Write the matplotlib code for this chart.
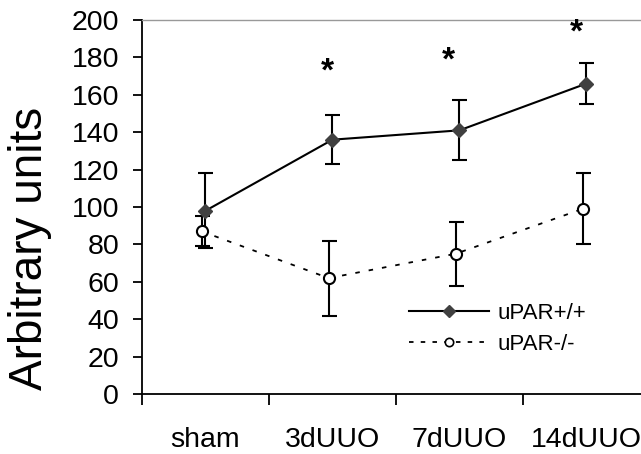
import numpy as np
import matplotlib
matplotlib.use("Agg")
import matplotlib.pyplot as plt
from matplotlib.lines import Line2D

# --------------------------------------------
# Data
# --------------------------------------------

groups = ["sham", "3dUUO", "7dUUO", "14dUUO"]

wt_mean = [98, 136, 141, 166]
wt_err = [20, 13, 16, 11]

ko_mean = [87, 62, 75, 99]
ko_err = [8, 20, 17, 19]

star_y = [172, 178, 193]
star_groups = [1, 2, 3]
star_shift = [-0.04, -0.09, -0.08]

plt.rcParams["font.family"] = ["Liberation Sans", "DejaVu Sans"]

fig = plt.figure(figsize=(6.41, 4.54), dpi=100)
ax = fig.add_axes([0.2215, 0.132, 0.7785, 0.824])

x = np.arange(len(groups))

ax.errorbar(
    x, wt_mean, yerr=wt_err,
    color="black", linewidth=1.5, elinewidth=1.5,
    capsize=5.4, capthick=1.5,
    marker="D", markersize=7,
    markerfacecolor="#404040", markeredgecolor="#404040",
    zorder=3
)

ax.errorbar(
    x - 0.03, ko_mean, yerr=ko_err,
    color="black", linewidth=1.3, elinewidth=1.5,
    capsize=5.4, capthick=1.5, linestyle=(0, (2.5, 5)),
    marker="o", markersize=8,
    markerfacecolor="white", markeredgecolor="black",
    markeredgewidth=1.5,
    zorder=3
)

for g, yv, dx in zip(star_groups, star_y, star_shift):
    ax.text(g + dx, yv, "*", ha="center", va="center",
            fontsize=24, fontweight="bold")

ax.set_ylim(0, 200)
ax.set_yticks(range(0, 201, 20))
ax.set_xlim(-0.5, 3.43)

# boundaries as major ticks, names as minor ticks
ax.set_xticks(np.arange(-0.5, 3.0, 1.0))
ax.set_xticklabels([])
ax.set_xticks(x, minor=True)
ax.set_xticklabels(groups, minor=True)
ax.tick_params(axis="x", which="major", direction="out", length=8, width=1.3)
ax.tick_params(axis="x", which="minor", length=0, pad=24, labelsize=20.5)
ax.tick_params(axis="y", direction="out", length=6.5, width=1.3, labelsize=20.5, pad=10)

ax.set_ylabel("Arbitrary units", fontsize=33)
ax.yaxis.set_label_coords(-0.18, 0.388)

ax.spines["right"].set_visible(False)
ax.spines["top"].set_color("#999999")
ax.spines["top"].set_linewidth(1.0)
ax.spines["left"].set_linewidth(1.3)
ax.spines["bottom"].set_linewidth(1.3)

handles = [
    Line2D([], [], color="black", linewidth=1.5, marker="D", markersize=6,
           markerfacecolor="#404040", markeredgecolor="#404040"),
    Line2D([], [], color="black", linewidth=1.3, linestyle=(0, (2.5, 4)),
           marker="o", markersize=6, markerfacecolor="white",
           markeredgecolor="black", markeredgewidth=1.2),
]

ax.legend(
    handles, ["uPAR+/+", "uPAR-/-"],
    loc="center left", bbox_to_anchor=(0.535, 0.175),
    frameon=False, fontsize=16, handlelength=3.6,
    handletextpad=0.4, labelspacing=0.45,
    borderpad=0, borderaxespad=0
)

plt.savefig("out.png", dpi=100)
